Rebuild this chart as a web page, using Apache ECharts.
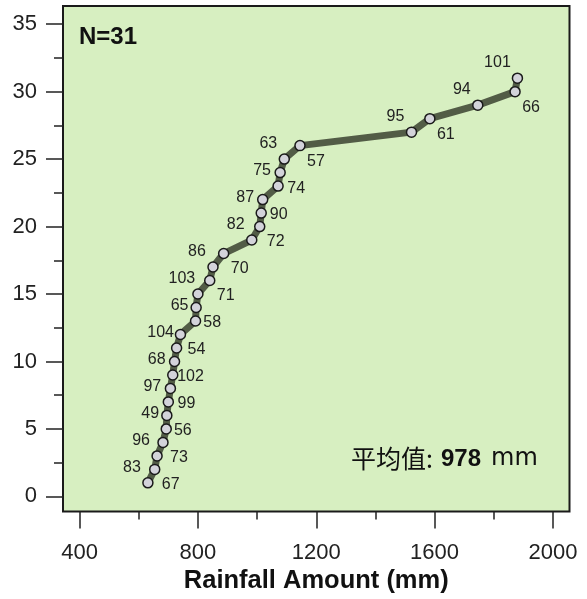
<!DOCTYPE html>
<html>
<head>
<meta charset="utf-8">
<script src="https://cdn.jsdelivr.net/npm/echarts@6/dist/echarts.min.js"></script>
<style>html,body{margin:0;padding:0;background:#fff}#c{width:587px;height:599px}</style>
</head>
<body>
<div id="c"></div>
<script>
const years = [83,67,96,73,49,56,97,99,68,102,104,54,65,58,103,71,86,70,82,72,87,90,75,74,63,57,95,61,94,66,101];
const rainfall = [631,654,662,682,693,695,700,707,715,721,728,741,792,794,800,840,851,887,982,1009,1014,1019,1071,1078,1092,1145,1522,1584,1746,1872,1880];
const ranks = [1,2,3,4,5,6,7,8,9,10,11,12,13,14,15,16,17,18,19,20,21,22,23,24,25,26,27,28,29,30,31];
const xTicks = [400,800,1200,1600,2000];
const xMinor = [600,1000,1400,1800];
const yTicks = [0,5,10,15,20,25,30,35];
const yMinor = [2.5,7.5,12.5,17.5,22.5,27.5,32.5];
const countLabel = 'N=31';
const meanLabel = '平均值:';
const meanValue = 978;
const meanUnit = 'mm';

const FONT = '"Liberation Sans", Arial, "Noto Sans CJK SC", sans-serif';
const X_MIN = 344, X_MAX = 2056, Y_MIN = -1.13, Y_MAX = 36.35;

const data = rainfall.map((v, i) => {
  const last = i === rainfall.length - 1;
  const upLeft = i % 2 === 0;
  let pad, text;
  if (last) { pad = [0, 40, 0, 0]; text = years[i] + '\n '; }
  else if (upLeft) { pad = [0, 32, 0, 0]; text = years[i] + '\n '; }
  else { pad = [0, 0, 0, 32]; text = ' \n' + years[i]; }
  return {value: [v, ranks[i]], label: {formatter: text, position: 'inside', padding: pad}};
});

const tickStyle = {color: '#222', width: 1.5};
const chart = echarts.init(document.getElementById('c'), null, {renderer: 'canvas'});
chart.setOption({
  animation: false,
  textStyle: {fontFamily: FONT},
  grid: {left: 63, top: 6, right: 17.5, bottom: 87, show: true, backgroundColor: '#d7efc1', borderColor: '#1a1a1a', borderWidth: 2, containLabel: false},
  xAxis: [{
    type: 'value', min: X_MIN, max: X_MAX, position: 'bottom',
    axisLine: {show: false, onZero: false}, splitLine: {show: false},
    axisTick: {show: true, inside: false, length: 17, lineStyle: tickStyle, customValues: xTicks},
    axisLabel: {show: true, customValues: xTicks, margin: 30, fontSize: 22, color: '#222', fontFamily: FONT, formatter: v => String(v)},
    name: 'Rainfall Amount (mm)', nameLocation: 'middle', nameGap: 54,
    nameTextStyle: {fontSize: 25.5, fontWeight: 'bold', color: '#111', fontFamily: FONT}
  }, {
    type: 'value', min: X_MIN, max: X_MAX, position: 'bottom',
    axisLine: {show: false, onZero: false}, splitLine: {show: false},
    axisTick: {show: true, inside: false, length: 8, lineStyle: tickStyle, customValues: xMinor},
    axisLabel: {show: false}
  }],
  yAxis: [{
    type: 'value', min: Y_MIN, max: Y_MAX, position: 'left',
    axisLine: {show: false, onZero: false}, splitLine: {show: false},
    axisTick: {show: true, inside: false, length: 17, lineStyle: tickStyle, customValues: yTicks},
    axisLabel: {show: true, customValues: yTicks, margin: 26, fontSize: 22, color: '#222', fontFamily: FONT, formatter: v => String(v)}
  }, {
    type: 'value', min: Y_MIN, max: Y_MAX, position: 'left',
    axisLine: {show: false, onZero: false}, splitLine: {show: false},
    axisTick: {show: true, inside: false, length: 9, lineStyle: tickStyle, customValues: yMinor},
    axisLabel: {show: false}
  }],
  series: [{
    type: 'line', xAxisIndex: 0, yAxisIndex: 0,
    data: data,
    lineStyle: {color: '#525c46', width: 7},
    symbol: 'circle', symbolSize: 10,
    itemStyle: {color: '#d3d3da', borderColor: '#1a1a1a', borderWidth: 1.5},
    label: {show: true, fontSize: 16, lineHeight: 31, color: '#222', fontFamily: FONT, align: 'center', verticalAlign: 'middle'},
    z: 3
  }],
  graphic: [{
    type: 'text', left: 79, top: 25,
    style: {text: countLabel, font: 'bold 24px ' + FONT, fill: '#111'}
  }, {
    type: 'text', x: 351, y: 458,
    style: {text: meanLabel, font: '25px "Noto Sans CJK SC", sans-serif', fill: '#111', verticalAlign: 'middle'}
  }, {
    type: 'text', x: 441, y: 459,
    style: {text: String(meanValue), font: 'bold 24px ' + FONT, fill: '#111', verticalAlign: 'middle'}
  }, {
    type: 'text', x: 491, y: 459,
    style: {text: meanUnit, font: '24px "DejaVu Sans", sans-serif', fill: '#111', verticalAlign: 'middle'}
  }]
});
</script>
</body>
</html>
